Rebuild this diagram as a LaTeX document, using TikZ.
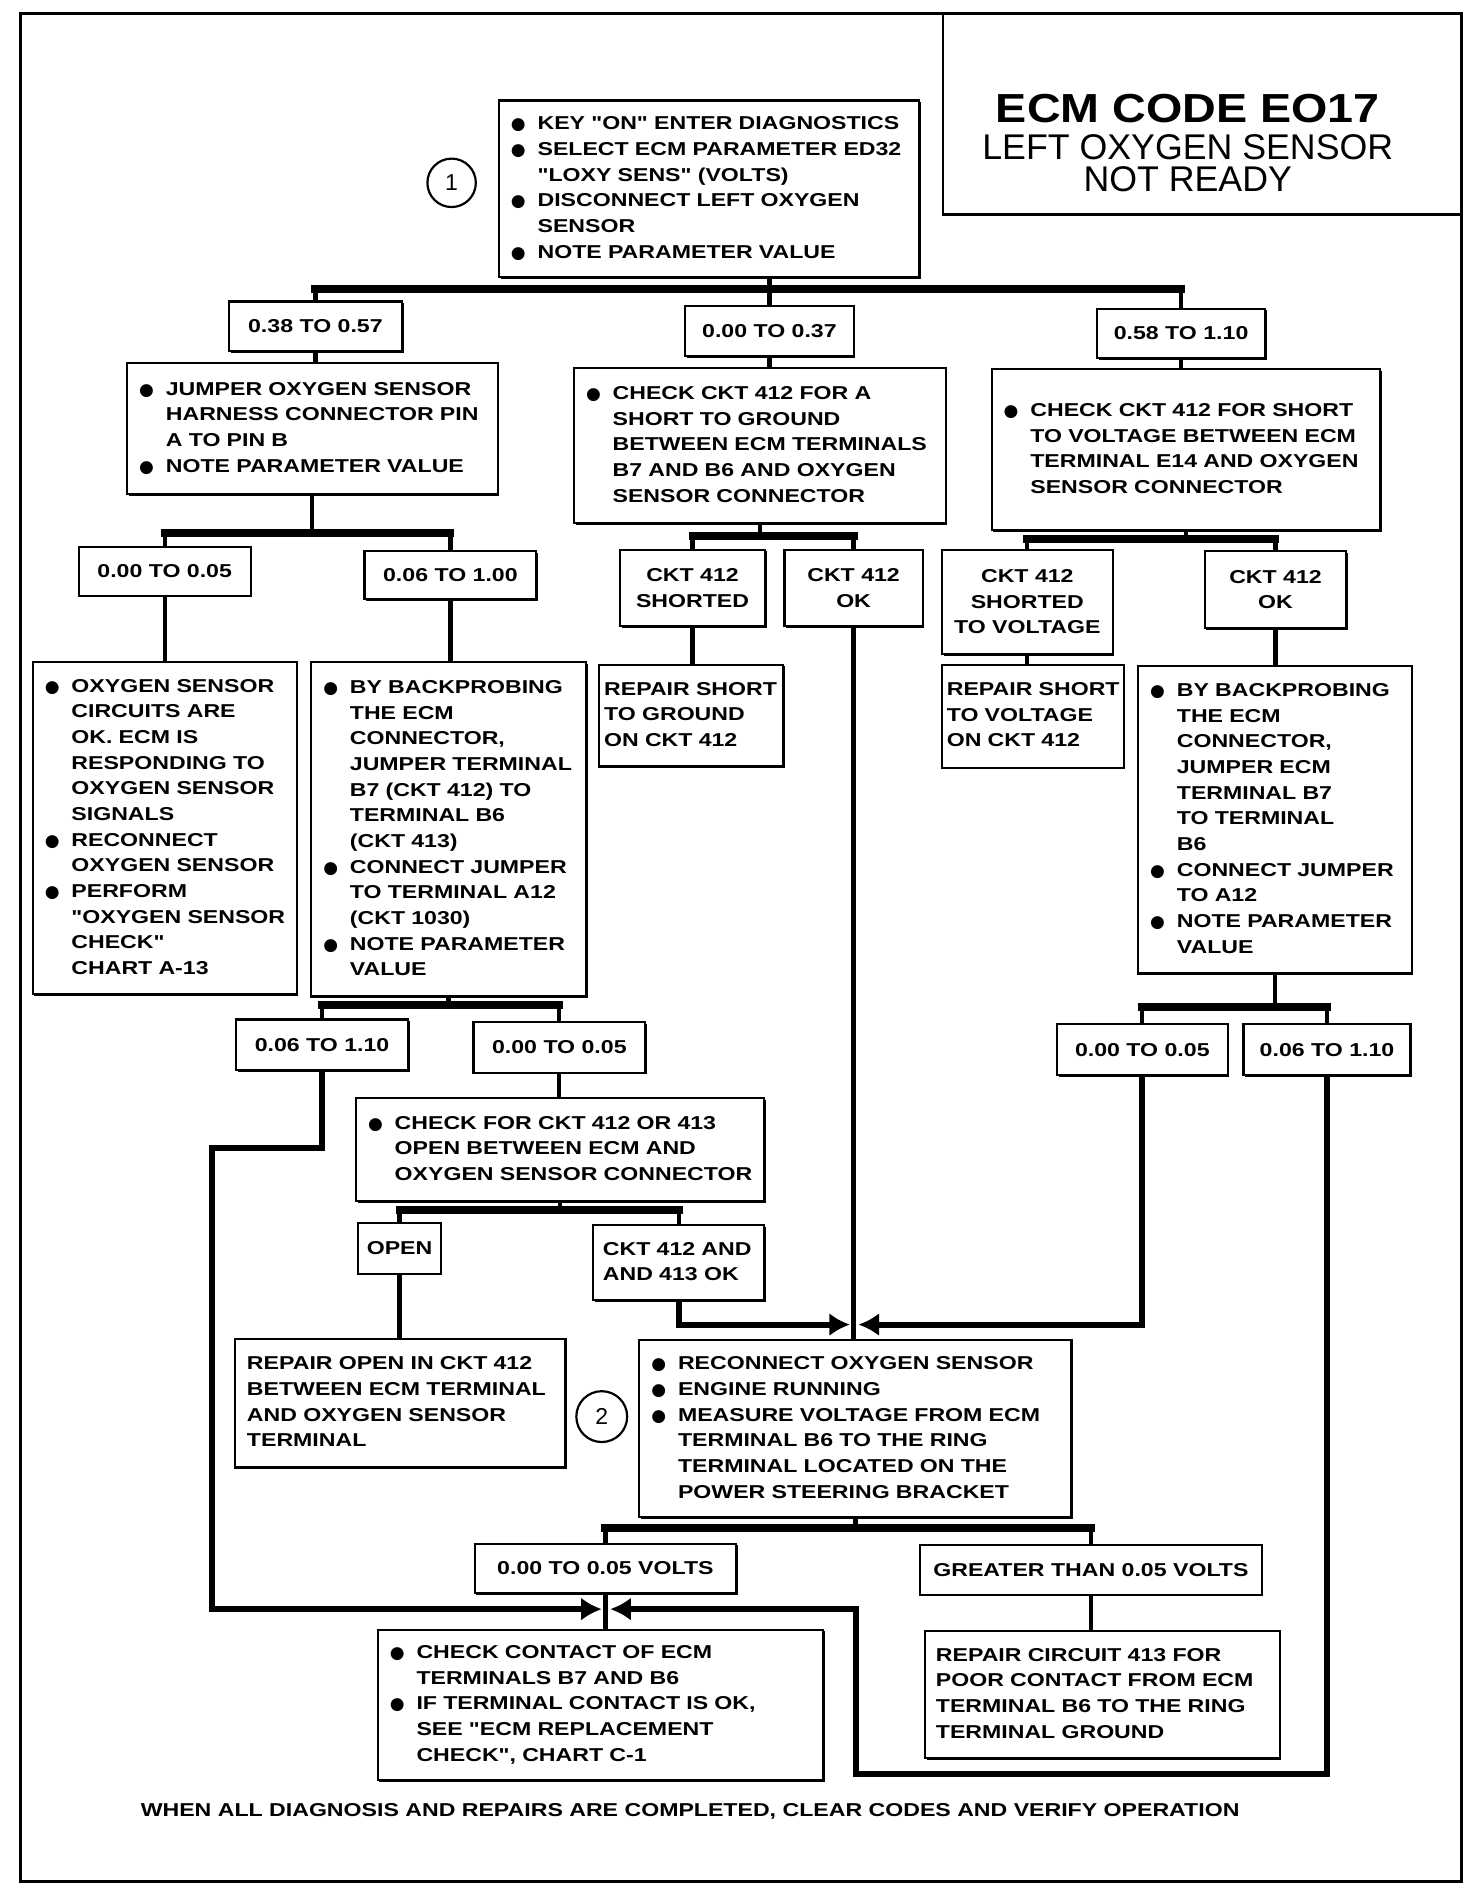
\documentclass[tikz,border=0pt]{standalone}
\usepackage{fontspec}
\usepackage{tikz}
\usetikzlibrary{arrows.meta,shadows}
\newfontfamily\chartfont[FakeStretch=1.24]{Liberation Sans}
\newfontfamily\codefont[FakeStretch=1.15]{Liberation Sans}
\newfontfamily\headfont{Liberation Sans}
\newfontfamily\dotfont{DejaVu Sans}
\newcommand{\bul}{\makebox[22pt][l]{\dotfont\fontsize{14}{14}\selectfont ●}}
\newcommand{\ind}{\hspace*{22pt}}
\newcommand{\boxlines}[1]{\begin{tabular}{@{}l@{}}#1\end{tabular}}

\begin{document}
\begin{tikzpicture}[x=1pt, y=-1pt,
    box/.style={draw, fill=white, line width=1.8pt, inner sep=0pt, align=left,
        font=\chartfont\bfseries\fontsize{15.4}{21.2}\selectfont,
        drop shadow={shadow xshift=1.4pt, shadow yshift=-1.4pt, opacity=1, fill=black}},
    lab/.style={box, align=center},
    conn/.style={line width=3.5pt},
    bar/.style={line width=6.5pt, line cap=rect},
    route/.style={line width=5pt, -{Latex[length=17pt,width=19pt]}},
    num/.style={circle, draw, line width=1.8pt, inner sep=0pt, font=\headfont\fontsize{19}{19}\selectfont}]
    \useasboundingbox (0,0) rectangle (1216,1561);
    \draw[line width=2pt] (17,11) rectangle (1207,1554);

    \node[draw, line width=2pt, minimum width=428, minimum height=166, inner sep=0pt] (titlebox) at (993,94) {};
    \node[anchor=base, font=\codefont\bfseries\fontsize{33.5}{33.5}\selectfont] (title1) at (981,101) {ECM CODE EO17};
    \node[anchor=base, font=\headfont\fontsize{29.5}{29.5}\selectfont] (title2) at (981,131.5) {LEFT OXYGEN SENSOR};
    \node[anchor=base, font=\headfont\fontsize{29.5}{29.5}\selectfont] (title3) at (981,158) {NOT READY};

    \node[num, minimum size=40] (step1) at (373,151) {1};
    \node[box, minimum width=347, minimum height=146, text width=327] (b1) at (585.5,156)
        {\boxlines{\bul KEY "ON" ENTER DIAGNOSTICS\\ \bul SELECT ECM PARAMETER ED32\\ \ind "LOXY SENS" (VOLTS)\\
         \bul DISCONNECT LEFT OXYGEN\\ \ind SENSOR\\ \bul NOTE PARAMETER VALUE}};

    \node[lab, minimum width=143, minimum height=41] (l1a) at (260.5,269.5) {0.38 TO 0.57};
    \node[lab, minimum width=139, minimum height=41] (l1b) at (635.5,273.5) {0.00 TO 0.37};
    \node[lab, minimum width=139, minimum height=41] (l1c) at (975.5,275.5) {0.58 TO 1.10};

    \node[box, minimum width=306, minimum height=108, text width=286] (nA) at (258,354)
        {\boxlines{\bul JUMPER OXYGEN SENSOR\\ \ind HARNESS CONNECTOR PIN\\ \ind A TO PIN B\\ \bul NOTE PARAMETER VALUE}};
    \node[box, minimum width=307, minimum height=128, text width=287] (nB) at (627.5,368)
        {\boxlines{\bul CHECK CKT 412 FOR A\\ \ind SHORT TO GROUND\\ \ind BETWEEN ECM TERMINALS\\ \ind B7 AND B6 AND OXYGEN\\ \ind SENSOR CONNECTOR}};
    \node[box, minimum width=321, minimum height=133, text width=301] (nC) at (979.5,371.5)
        {\boxlines{\bul CHECK CKT 412 FOR SHORT\\ \ind TO VOLTAGE BETWEEN ECM\\ \ind TERMINAL E14 AND OXYGEN\\ \ind SENSOR CONNECTOR}};

    \node[lab, minimum width=142, minimum height=40] (l2a) at (136,472) {0.00 TO 0.05};
    \node[lab, minimum width=142, minimum height=40] (l2b) at (372,475) {0.06 TO 1.00};
    \node[lab, minimum width=120, minimum height=63] (sh1) at (572,485.5) {CKT 412\\ SHORTED};
    \node[lab, minimum width=114, minimum height=63] (ok1) at (705,485.5) {CKT 412\\ OK};
    \node[lab, minimum width=141, minimum height=86] (sh2) at (848.5,497) {CKT 412\\ SHORTED\\ TO VOLTAGE};
    \node[lab, minimum width=117, minimum height=64] (ok2) at (1053.5,487) {CKT 412\\ OK};

    \node[box, minimum width=218, minimum height=274, text width=198] (nD) at (136,684)
        {\boxlines{\bul OXYGEN SENSOR\\ \ind CIRCUITS ARE\\ \ind OK. ECM IS\\ \ind RESPONDING TO\\ \ind OXYGEN SENSOR\\ \ind SIGNALS\\
         \bul RECONNECT\\ \ind OXYGEN SENSOR\\ \bul PERFORM\\ \ind "OXYGEN SENSOR\\ \ind CHECK"\\ \ind CHART A-13}};
    \node[box, minimum width=227, minimum height=276, text width=207] (nE) at (370.5,685)
        {\boxlines{\bul BY BACKPROBING\\ \ind THE ECM\\ \ind CONNECTOR,\\ \ind JUMPER TERMINAL\\ \ind B7 (CKT 412) TO\\ \ind TERMINAL B6\\ \ind (CKT 413)\\
         \bul CONNECT JUMPER\\ \ind TO TERMINAL A12\\ \ind (CKT 1030)\\ \bul NOTE PARAMETER\\ \ind VALUE}};
    \node[box, minimum width=152, minimum height=84, text width=144] (rg) at (571,591)
        {\boxlines{REPAIR SHORT\\ TO GROUND\\ ON CKT 412}};
    \node[box, minimum width=150, minimum height=85, text width=142] (rv) at (853,591.5)
        {\boxlines{REPAIR SHORT\\ TO VOLTAGE\\ ON CKT 412}};
    \node[box, minimum width=226, minimum height=254, text width=206] (nF) at (1053,677)
        {\boxlines{\bul BY BACKPROBING\\ \ind THE ECM\\ \ind CONNECTOR,\\ \ind JUMPER ECM\\ \ind TERMINAL B7\\ \ind TO TERMINAL\\ \ind B6\\
         \bul CONNECT JUMPER\\ \ind TO A12\\ \bul NOTE PARAMETER\\ \ind VALUE}};

    \node[lab, minimum width=142, minimum height=42] (l3a) at (266,863) {0.06 TO 1.10};
    \node[lab, minimum width=142, minimum height=42] (l3b) at (462,865) {0.00 TO 0.05};
    \node[lab, minimum width=141, minimum height=42] (l5a) at (943.5,867) {0.00 TO 0.05};
    \node[lab, minimum width=138, minimum height=42] (l5b) at (1096,867) {0.06 TO 1.10};

    \node[box, minimum width=337, minimum height=85, text width=317] (nG) at (462.5,949.5)
        {\boxlines{\bul CHECK FOR CKT 412 OR 413\\ \ind OPEN BETWEEN ECM AND\\ \ind OXYGEN SENSOR CONNECTOR}};
    \node[lab, minimum width=68, minimum height=42] (op) at (330,1031) {OPEN};
    \node[box, minimum width=141, minimum height=62, text width=125] (both) at (560.5,1043)
        {\boxlines{CKT 412 AND\\ AND 413 OK}};
    \node[box, minimum width=273, minimum height=106, text width=253] (rop) at (330.5,1159)
        {\boxlines{REPAIR OPEN IN CKT 412\\ BETWEEN ECM TERMINAL\\ AND OXYGEN SENSOR\\ TERMINAL}};

    \node[num, minimum size=42] (step2) at (497,1170) {2};
    \node[box, minimum width=357, minimum height=146, text width=337] (n2) at (706.5,1180)
        {\boxlines{\bul RECONNECT OXYGEN SENSOR\\ \bul ENGINE RUNNING\\ \bul MEASURE VOLTAGE FROM ECM\\ \ind TERMINAL B6 TO THE RING\\
         \ind TERMINAL LOCATED ON THE\\ \ind POWER STEERING BRACKET}};
    \node[lab, minimum width=216, minimum height=41] (v1) at (500,1295.5) {0.00 TO 0.05 VOLTS};
    \node[lab, minimum width=282, minimum height=41] (gt) at (901,1296.5) {GREATER THAN 0.05 VOLTS};
    \node[box, minimum width=368, minimum height=124, text width=348] (chk) at (496,1408)
        {\boxlines{\bul CHECK CONTACT OF ECM\\ \ind TERMINALS B7 AND B6\\ \bul IF TERMINAL CONTACT IS OK,\\ \ind SEE "ECM REPLACEMENT\\ \ind CHECK", CHART C-1}};
    \node[box, minimum width=293, minimum height=105, text width=275] (r413) at (910.5,1399.5)
        {\boxlines{REPAIR CIRCUIT 413 FOR\\ POOR CONTACT FROM ECM\\ TERMINAL B6 TO THE RING\\ TERMINAL GROUND}};

    \node[anchor=base, font=\chartfont\bfseries\fontsize{15.4}{21.2}\selectfont] (foot) at (570,1500)
        {WHEN ALL DIAGNOSIS AND REPAIRS ARE COMPLETED, CLEAR CODES AND VERIFY OPERATION};

    \coordinate (j1) at (0,239);
    \coordinate (jA) at (0,440);
    \coordinate (jB) at (0,443);
    \coordinate (jC) at (0,445);
    \coordinate (jE) at (0,830);
    \coordinate (jF) at (0,832);
    \coordinate (jG) at (0,999);
    \coordinate (j2) at (0,1262);
    \coordinate (tipL) at (702,1094);
    \coordinate (tipR) at (709,1094);
    \coordinate (turnL) at (175,948);
    \coordinate (turnR) at (707,1465);
    \coordinate (tipBL) at (497,1329);
    \coordinate (tipBR) at (504,1329);

    \draw[bar] (l1a.north |- j1) -- (l1c.north |- j1);
    \draw[conn] (b1.south -| l1b.north) -- (l1b.north);
    \draw[conn] (l1a.north |- j1) -- (l1a.north);
    \draw[conn] (l1c.north |- j1) -- (l1c.north);
    \draw[conn] (l1a.south) -- (l1a.south |- nA.north);
    \draw[conn] (l1b.south) -- (l1b.south |- nB.north);
    \draw[conn] (l1c.south) -- (l1c.south |- nC.north);

    \draw[bar] (l2a.north |- jA) -- (l2b.north |- jA);
    \draw[conn] (nA.south) -- (nA.south |- jA);
    \draw[conn] (l2a.north |- jA) -- (l2a.north);
    \draw[conn] (l2b.north |- jA) -- (l2b.north);
    \draw[conn] (l2a.south) -- (l2a.south |- nD.north);
    \draw[conn] (l2b.south) -- (l2b.south |- nE.north);

    \draw[bar] (sh1.north |- jB) -- (ok1.north |- jB);
    \draw[conn] (nB.south) -- (nB.south |- jB);
    \draw[conn] (sh1.north |- jB) -- (sh1.north);
    \draw[conn] (ok1.north |- jB) -- (ok1.north);
    \draw[conn] (sh1.south) -- (sh1.south |- rg.north);
    \draw[conn] (ok1.south) -- (ok1.south |- n2.north);

    \draw[bar] (sh2.north |- jC) -- (ok2.north |- jC);
    \draw[conn] (nC.south) -- (nC.south |- jC);
    \draw[conn] (sh2.north |- jC) -- (sh2.north);
    \draw[conn] (ok2.north |- jC) -- (ok2.north);
    \draw[conn] (sh2.south) -- (sh2.south |- rv.north);
    \draw[conn] (ok2.south) -- (ok2.south |- nF.north);

    \draw[bar] (l3a.north |- jE) -- (l3b.north |- jE);
    \draw[conn] (nE.south) -- (nE.south |- jE);
    \draw[conn] (l3a.north |- jE) -- (l3a.north);
    \draw[conn] (l3b.north |- jE) -- (l3b.north);
    \draw[conn] (l3b.south) -- (l3b.south |- nG.north);

    \draw[bar] (l5a.north |- jF) -- (l5b.north |- jF);
    \draw[conn] (nF.south) -- (nF.south |- jF);
    \draw[conn] (l5a.north |- jF) -- (l5a.north);
    \draw[conn] (l5b.north |- jF) -- (l5b.north);

    \draw[bar] (op.north |- jG) -- (both.north |- jG);
    \draw[conn] (nG.south) -- (nG.south |- jG);
    \draw[conn] (op.north |- jG) -- (op.north);
    \draw[conn] (both.north |- jG) -- (both.north);
    \draw[conn] (op.south) -- (op.south |- rop.north);

    \draw[bar] (v1.north |- j2) -- (gt.north |- j2);
    \draw[conn] (n2.south) -- (n2.south |- j2);
    \draw[conn] (v1.north |- j2) -- (v1.north);
    \draw[conn] (gt.north |- j2) -- (gt.north);
    \draw[conn] (v1.south) -- (v1.south |- chk.north);
    \draw[conn] (gt.south) -- (gt.south |- r413.north);

    \draw[route] (both.south) |- (tipL);
    \draw[route] (l5a.south) |- (tipR);
    \draw[route] (l3a.south) |- (turnL) |- (tipBL);
    \draw[route] (l5b.south) |- (turnR) |- (tipBR);
\end{tikzpicture}
\end{document}
